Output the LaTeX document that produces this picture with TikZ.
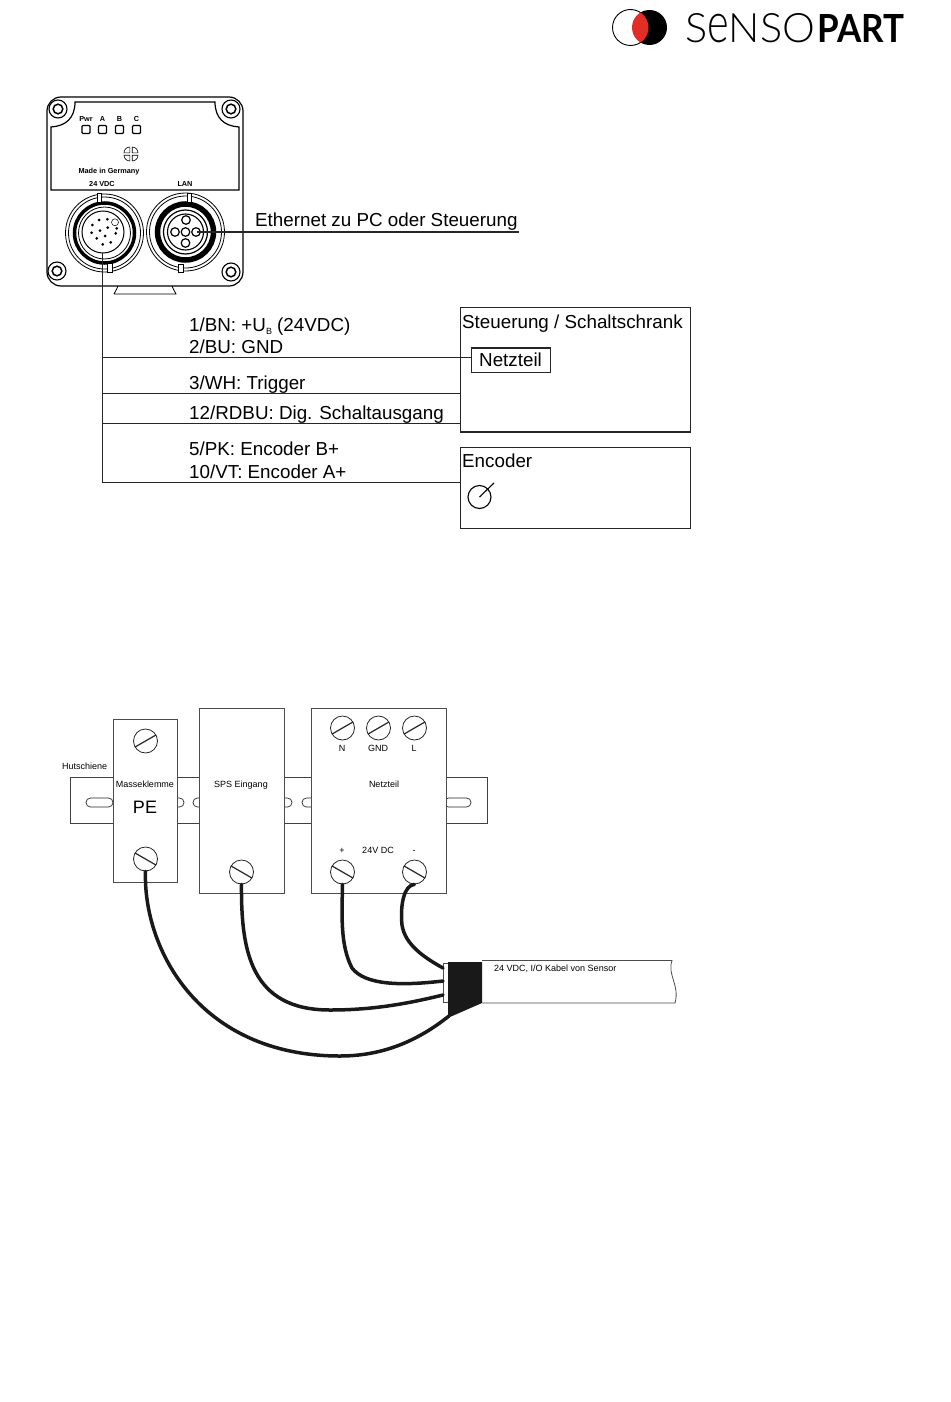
\documentclass[tikz,border=0pt]{standalone}
\usepackage{graphicx}
\usepackage{fontspec}
\setmainfont{Liberation Sans}
\newfontfamily\logolight{Lato Light}
\newfontfamily\logobold{Lato}
\begin{document}
\begin{tikzpicture}[x=1pt,y=-1pt,
 thin line/.style={line width=0.7pt,draw=black!85},
 wire/.style={line width=1.4pt,draw=black!85},
 cable/.style={line width=3.5pt,draw=black!90,line cap=round},
 box/.style={line width=1.3pt,draw=black!85,fill=white},
 module/.style={line width=0.7pt,draw=black!70,fill=white},
 big/.style={font=\fontsize{18.8}{20}\selectfont,anchor=base west,inner sep=0pt},
 small/.style={font=\fontsize{9}{10}\selectfont,anchor=base,inner sep=0pt},
 mini/.style={font=\bfseries\fontsize{7.3}{8}\selectfont,anchor=base,inner sep=0pt},
 logo/.style={anchor=south west,inner sep=0pt},
 slot/.style={line width=0.7pt,draw=black!85,rounded corners=4.4pt},
]
\useasboundingbox (0,0) rectangle (950,1402);
% logo
\definecolor{logored}{RGB}{226,46,38}
\fill[black] (649.5,27.5) circle (17.5);
\draw[line width=0.9pt,fill=white] (630.5,27.5) circle (18);
\begin{scope}\clip (649.5,27.5) circle (17.5); \fill[logored] (630.5,27.5) circle (18); \end{scope}
\node[logo] (logoS) at (685,43) {\resizebox{130pt}{29pt}{\logolight S\scalebox{1}[1.38]{e}NSO}};
\node[logo] (logoP) at (817,43) {\resizebox{87pt}{28pt}{\logobold\bfseries PART}};
% sensor housing
\draw[line width=1.2pt,rounded corners=14pt] (47,97) rectangle (243,286);
\draw[line width=1.2pt] (75,102) .. controls (75,118) and (66,126) .. (51,127) -- (51,190) -- (239,190) -- (239,127) .. controls (224,126) and (215,118) .. (215,102) -- cycle;
\foreach \p in {(58,109),(231,109),(57,271),(231,272)}{
 \draw[line width=1.1pt] \p circle (9);
 \draw[line width=1.5pt] \p circle (4.8);
}
% foot
\draw[line width=0.8pt] (114,294) .. controls (116,290) and (117,289) .. (118,286) (172,286) .. controls (173,289) and (174,290) .. (176,294) -- (114,294);
% LEDs
\foreach \x/\t in {86/Pwr,102.5/A,119.5/B,136.5/C}{
 \draw[line width=1.1pt,rounded corners=1pt] (\x-4,125.5) rectangle (\x+4,133.5);
 \node[mini] at (\x,121.5) {\t};
}
\begin{scope}[shift={(131,154)},x=1pt,y=1pt]
 \foreach \a in {0,90,180,270}{
  \draw[line width=0.6pt,rotate=\a] (1.2,1.2) -- (7,1.2) arc[start angle=0,end angle=90,radius=5.8] -- cycle;
 }
\end{scope}
\node[mini] at (109,173) {Made in Germany};
\node[mini] at (102,186.5) {24 VDC};
\node[mini] at (185,186.5) {LAN};
% left connector
\draw[line width=0.8pt] (104.5,233) circle (39);
\draw[line width=0.8pt] (104.5,233) circle (36);
\draw[line width=3.5pt] (104.5,233) circle (30);
\draw[line width=0.8pt] (104.5,233) circle (26);
\draw[line width=1pt] (103,232) circle (21);
\fill[white,draw=black,line width=0.6pt] (97,193) rectangle (101,202);
\fill[white,draw=black,line width=0.6pt] (107,263) rectangle (112,272);
\foreach \a/\b in {99/220,107.3/219.3,92.3/225,100/230.7,107.7/227.7,116.7/228.3,91.7/232.7,105/236,115.7/233.3,96.7/238.3,110.7/242.3,102.7/244.3}{
 \fill[black] (\a,\b) circle (1.5);
}
\draw[line width=0.5pt,fill=white] (115,222.3) circle (3.5);
% right connector
\draw[line width=0.8pt] (185.5,232) circle (39);
\draw[line width=0.8pt] (185.5,232) circle (36);
\draw[line width=5.5pt] (185.5,232) circle (28);
\draw[line width=1.2pt] (185.5,232) circle (22);
\draw[line width=1.1pt] (185.5,232) circle (18);
\fill[white,draw=black,line width=0.6pt] (187,193) rectangle (191,202);
\fill[white,draw=black,line width=0.6pt] (178,264) rectangle (183,272);
\foreach \a/\b in {(186,220),(175,232),(185.5,232),(196,232),(185.5,243)}{
 \draw[line width=1.2pt,fill=white] \a circle (4.3);
}
% Ethernet
\node[big] (eth) at (255,226) {Ethernet zu PC oder Steuerung};
\coordinate (ethS) at (197,232);
\coordinate (ethE) at (519,232);
\draw[wire] (ethS) -- (ethE);
% boxes
\node[box,minimum width=229.6pt,minimum height=124.4pt,anchor=north west,inner sep=0pt] (schrank) at (459.9,306.9) {};
\node[box,minimum width=229.6pt,minimum height=80.6pt,anchor=north west,inner sep=0pt] (enc) at (459.9,446.9) {};
\node[big] at (462,328) {Steuerung / Schaltschrank};
\node[big] at (462,467) {Encoder};
\node[box,minimum width=78.6pt,minimum height=24.6pt,anchor=north west,inner sep=0pt] (nt) at (470.9,347.4) {};
\node[big] at (479,366) {Netzteil};
% encoder symbol
\draw[line width=1.1pt] (479.5,497) circle (11.5);
\draw[line width=1.1pt] (479.5,497) -- (494,483);
% wires
\coordinate (c0) at (102.5,253);
\coordinate (c1) at (102.5,357.5);
\coordinate (c2) at (102.5,393.5);
\coordinate (c3) at (102.5,423.5);
\coordinate (c4) at (102.5,482.5);
\draw[wire] (c0) -- (c4) -- (enc.west |- c4);
\draw[wire] (c1) -- (nt.west |- c1);
\draw[wire] (c2) -- (schrank.west |- c2);
\draw[wire] (c3) -- (schrank.west |- c3);
\node[big] at (189,331) {1/BN: +U\raisebox{-3.5pt}{\fontsize{9}{9}\selectfont B} (24VDC)};
\node[big] at (189,353) {2/BU: GND};
\node[big] at (189,389) {3/WH: Trigger};
\node[big] at (189,419) {12/RDBU: Dig. Schaltausgang};
\node[big] at (189,455) {5/PK: Encoder B+};
\node[big] at (189,478) {10/VT: Encoder A+};
% rail
\draw[thin line,draw=black!75] (70,777) rectangle (487,823.5);
\foreach \a/\b in {86/113,157/184,193/220,265/292,302/329,444/471}{
 \draw[slot] (\a,798) rectangle (\b,807);
}
\node[small,anchor=base west] at (62,769) {Hutschiene};
% modules
\node[module,minimum width=64.5pt,minimum height=163pt,anchor=north west,inner sep=0pt] (pe) at (112.7,718.7) {};
\node[module,minimum width=85pt,minimum height=185.5pt,anchor=north west,inner sep=0pt] (sps) at (199.2,707.7) {};
\node[module,minimum width=134.5pt,minimum height=185.5pt,anchor=north west,inner sep=0pt] (nz) at (311.4,707.7) {};
\node[small] at (145,787) {Masseklemme};
\node[small] at (241,787) {SPS Eingang};
\node[small] at (384,787) {Netzteil};
\node[anchor=base,inner sep=0pt,font=\fontsize{18}{20}\selectfont] at (145,813) {PE};
\node[small] at (342,751) {N};
\node[small] at (378,751) {GND};
\node[small] at (414,751) {L};
\node[small] at (342,853) {+};
\node[small] at (378,853) {24V DC};
\node[small] at (414,853) {-};
% screws
\foreach \n/\p in {s1/{(145.5,741)},s3/{(342.5,728)},s4/{(378.5,728)},s5/{(414.5,728)}}{
 \node[circle,draw=black!85,line width=0.8pt,minimum size=24pt,inner sep=0pt] (\n) at \p {};
 \draw[line width=1.2pt,black!85] (\n.210) -- (\n.30);
}
\foreach \n/\p in {s2/{(145.5,859)},s6/{(241.5,872)},s7/{(342.5,872)},s8/{(414.5,872)}}{
 \node[circle,draw=black!85,line width=0.8pt,minimum size=24pt,inner sep=0pt] (\n) at \p {};
 \draw[line width=1.2pt,black!85] (\n.150) -- (\n.330);
}
% cable
\draw[line width=0.8pt,draw=black!70,fill=white] (482,960.5) -- (672,960.5) .. controls (667,975) and (680,985) .. (675,1003) -- (482,1003);
\draw[line width=0.7pt,draw=black!70,fill=white] (443.5,963) rectangle (450,1002);
\fill[black!90] (448,962) -- (482,962) -- (482,1003) -- (450,1017) -- (448,1017) -- cycle;
\node[small,anchor=base west] (kab) at (494,971) {24 VDC, I/O Kabel von Sensor};
\coordinate (cA) at (443,968);
\coordinate (cB) at (443,981);
\coordinate (cC) at (443,995);
\coordinate (cD) at (449,1016);
\draw[cable] (s8.south) .. controls (404,885) and (400,905) .. (402,925) .. controls (405,945) and (425,958) .. (cA);
\draw[cable] (s7.south) .. controls (342,915) and (340,945) .. (352,968) .. controls (365,985) and (400,986) .. (cB);
\draw[cable] (s6.south) .. controls (241,950) and (250,1010) .. (330,1010) .. controls (375,1010) and (410,1003) .. (cC);
\draw[cable] (s2.south) .. controls (143,950) and (200,1056) .. (340,1056) .. controls (390,1056) and (425,1035) .. (cD);
\end{tikzpicture}
\end{document}
